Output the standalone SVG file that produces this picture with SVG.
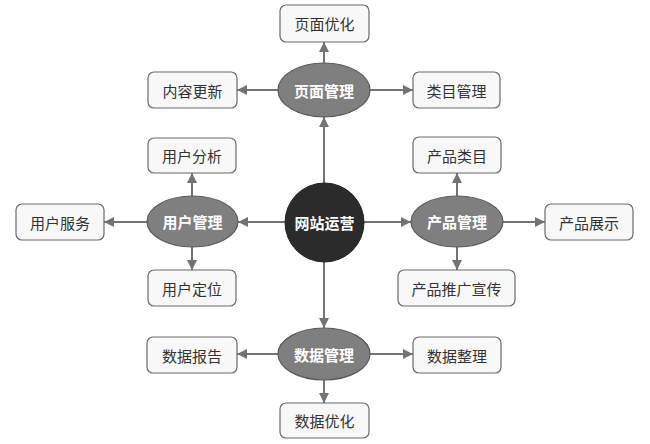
<svg xmlns="http://www.w3.org/2000/svg" width="650" height="444" viewBox="0 0 650 444">
<defs>
<marker id="ah" viewBox="0 0 10 10" refX="10" refY="5" markerWidth="10" markerHeight="10" markerUnits="userSpaceOnUse" orient="auto">
<path d="M0,0 L10,5 L0,10 z" fill="#737373"/>
</marker>
</defs>
<style>
.box{fill:#f8f8f8;stroke:#6a6a6a;stroke-width:1.2}
.ell{fill:#7f7f7f;stroke:#5a5a5a;stroke-width:1.2}
.ctr{fill:#2b2b2b;stroke:#222;stroke-width:1}
.t{font-family:"Noto Sans CJK SC","Noto Sans",sans-serif;font-size:15px;fill:#333;text-anchor:middle;dominant-baseline:central}
.w{font-family:"Noto Sans CJK SC","Noto Sans",sans-serif;font-size:15px;font-weight:bold;fill:#fff;text-anchor:middle;dominant-baseline:central}
.c line{stroke:#737373;stroke-width:2;marker-end:url(#ah)}
</style>
<rect width="650" height="444" fill="#fff"/>
<g class="c" id="connectors">
<line x1="324" y1="183" x2="324" y2="117"/>
<line x1="324" y1="262" x2="324" y2="328"/>
<line x1="285" y1="222" x2="238" y2="222"/>
<line x1="364" y1="222" x2="411" y2="222"/>
<line x1="324" y1="63" x2="324" y2="42"/>
<line x1="278" y1="90" x2="237" y2="90"/>
<line x1="370" y1="90" x2="413" y2="90"/>
<line x1="192" y1="196" x2="192" y2="173"/>
<line x1="147" y1="222" x2="104" y2="222"/>
<line x1="192" y1="247" x2="192" y2="270"/>
<line x1="457" y1="196" x2="457" y2="173"/>
<line x1="503" y1="222" x2="545" y2="222"/>
<line x1="457" y1="247" x2="457" y2="270"/>
<line x1="278" y1="354" x2="237" y2="354"/>
<line x1="370" y1="354" x2="413" y2="354"/>
<line x1="324" y1="380" x2="324" y2="403"/>
</g>
<g id="center"><circle class="ctr" cx="324.5" cy="222.5" r="39.5"/><text class="w" x="324.5" y="222.5">网站运营</text></g>
<g id="page"><ellipse class="ell" cx="324" cy="90" rx="46" ry="27"/><text class="w" x="324" y="90">页面管理</text></g>
<g id="user"><ellipse class="ell" cx="192.5" cy="221.5" rx="45.5" ry="25.5"/><text class="w" x="192.5" y="221.5">用户管理</text></g>
<g id="product"><ellipse class="ell" cx="457" cy="221.5" rx="46" ry="25.5"/><text class="w" x="457" y="221.5">产品管理</text></g>
<g id="data"><ellipse class="ell" cx="324" cy="354" rx="46" ry="26"/><text class="w" x="324" y="354">数据管理</text></g>
<g id="n1"><rect class="box" x="280" y="5" width="89" height="37" rx="6"/><text class="t" x="324.5" y="23.5">页面优化</text></g>
<g id="n2"><rect class="box" x="148" y="72" width="89" height="36" rx="6"/><text class="t" x="192.5" y="90">内容更新</text></g>
<g id="n3"><rect class="box" x="413" y="72" width="87" height="36" rx="6"/><text class="t" x="456.5" y="90">类目管理</text></g>
<g id="n4"><rect class="box" x="148" y="138" width="88" height="35" rx="6"/><text class="t" x="192" y="155.5">用户分析</text></g>
<g id="n5"><rect class="box" x="16" y="204" width="88" height="36" rx="6"/><text class="t" x="60" y="222">用户服务</text></g>
<g id="n6"><rect class="box" x="148" y="270" width="88" height="36" rx="6"/><text class="t" x="192" y="288">用户定位</text></g>
<g id="n7"><rect class="box" x="413" y="137" width="88" height="36" rx="6"/><text class="t" x="457" y="155">产品类目</text></g>
<g id="n8"><rect class="box" x="545" y="204" width="88" height="36" rx="6"/><text class="t" x="589" y="222">产品展示</text></g>
<g id="n9"><rect class="box" x="398" y="270" width="117" height="36" rx="6"/><text class="t" x="456.5" y="288">产品推广宣传</text></g>
<g id="n10"><rect class="box" x="147" y="337" width="90" height="36" rx="6"/><text class="t" x="192" y="355">数据报告</text></g>
<g id="n11"><rect class="box" x="413" y="337" width="88" height="36" rx="6"/><text class="t" x="457" y="355">数据整理</text></g>
<g id="n12"><rect class="box" x="280" y="403" width="89" height="35" rx="6"/><text class="t" x="324.5" y="420.5">数据优化</text></g>
</svg>
